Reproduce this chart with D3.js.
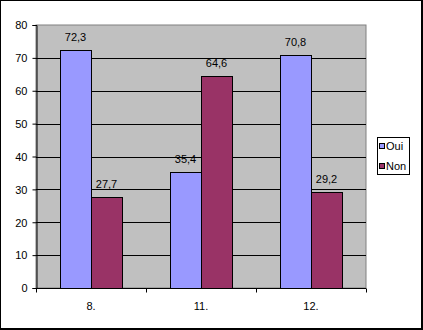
<!DOCTYPE html>
<html>
<head>
<meta charset="utf-8">
<script src="https://cdn.jsdelivr.net/npm/d3@7"></script>
<style>
  body { margin: 0; background: #fff; }
  svg text { font-family: "Liberation Sans", Arial, sans-serif; font-size: 11px; fill: #000; }
</style>
</head>
<body>
<svg id="chart" width="423" height="330"></svg>
<script>
const categories = ['8.', '11.', '12.']
const series = ['Oui', 'Non']
const oui = [72.3, 35.4, 70.8]
const non = [27.7, 64.6, 29.2]
const yTicks = [0, 10, 20, 30, 40, 50, 60, 70, 80]
const colors = ['#9999FF', '#993366']

const svg = d3.select('#chart')

// outer frame, a bit heavier on the right
svg.append('rect').attr('x', 0.5).attr('y', 0.5).attr('width', 421).attr('height', 328)
  .attr('fill', '#fff').attr('stroke', '#000').attr('stroke-width', 1)
svg.append('line').attr('x1', 422.5).attr('x2', 422.5).attr('y1', 0).attr('y2', 330).attr('stroke', '#000')
svg.append('line').attr('x1', 0).attr('x2', 423).attr('y1', 329.5).attr('y2', 329.5).attr('stroke', '#000')

const plot = { left: 36, top: 25, right: 366, bottom: 288 }

const x = d3.scaleBand().domain(categories).range([plot.left, plot.right])
const xs = d3.scaleBand().domain(series).range([0, 62])
const y = d3.scaleLinear().domain([0, 80]).range([plot.bottom, plot.top])

svg.append('rect')
  .attr('x', plot.left).attr('y', plot.top)
  .attr('width', plot.right - plot.left).attr('height', plot.bottom - plot.top)
  .attr('fill', '#C0C0C0').attr('stroke', '#808080')

// gridlines
svg.append('g').selectAll('line').data(yTicks.filter(d => d > 0 && d < 80)).join('line')
  .attr('x1', plot.left).attr('x2', plot.right)
  .attr('y1', d => Math.round(y(d)) + 0.5).attr('y2', d => Math.round(y(d)) + 0.5)
  .attr('stroke', '#000')

// bars
const rows = categories.map((c, i) => ({ cat: c, values: [oui[i], non[i]] }))
const groups = svg.append('g').selectAll('g').data(rows).join('g')
  .attr('transform', d => 'translate(' + (x(d.cat) + x.bandwidth() / 2 - 31) + ',0)')

groups.selectAll('rect').data(d => d.values.map((v, j) => ({ s: series[j], v: v, j: j }))).join('rect')
  .attr('x', d => Math.round(xs(d.s)) + 0.5)
  .attr('y', d => Math.round(y(d.v)) + 0.5)
  .attr('width', xs.bandwidth())
  .attr('height', d => Math.round(y(0)) - Math.round(y(d.v)))
  .attr('fill', d => colors[d.j])
  .attr('stroke', '#000')

groups.selectAll('text').data(d => d.values.map((v, j) => ({ s: series[j], v: v }))).join('text')
  .attr('x', d => xs(d.s) + xs.bandwidth() / 2)
  .attr('y', d => y(d.v) - 9)
  .attr('text-anchor', 'middle')
  .text(d => d3.format('.1f')(d.v).replace('.', ','))

// axes
const yAxis = svg.append('g').attr('transform', 'translate(' + (plot.left + 0.5) + ',0)')
  .call(d3.axisLeft(y).tickValues(yTicks).tickSize(4).tickPadding(5))
yAxis.select('.domain').attr('stroke', '#000')
yAxis.selectAll('.tick line').attr('stroke', '#000')
yAxis.selectAll('text').style('font-size', '11px').attr('dy', '0.35em')

const xTickAxis = svg.append('g').attr('transform', 'translate(0,' + (plot.bottom + 0.5) + ')')
xTickAxis.append('line').attr('x1', plot.left).attr('x2', plot.right).attr('stroke', '#000')
xTickAxis.selectAll('.xt').data(categories.concat([null])).join('line')
  .attr('x1', (d, i) => Math.round(plot.left + i * x.step()) + 0.5)
  .attr('x2', (d, i) => Math.round(plot.left + i * x.step()) + 0.5)
  .attr('y1', 0).attr('y2', 4).attr('stroke', '#000')
xTickAxis.selectAll('text').data(categories).join('text')
  .attr('x', d => x(d) + x.bandwidth() / 2)
  .attr('y', 21)
  .attr('text-anchor', 'middle')
  .text(d => d)

// legend
const legend = svg.append('g')
legend.append('rect').attr('x', 377.5).attr('y', 137.5).attr('width', 32).attr('height', 37)
  .attr('fill', '#fff').attr('stroke', '#000')
const li = legend.selectAll('g').data(series).join('g')
  .attr('transform', (d, i) => 'translate(0,' + (146 + i * 20) + ')')
li.append('rect').attr('x', 379.5).attr('y', -2.5).attr('width', 5).attr('height', 5)
  .attr('fill', (d, i) => colors[i]).attr('stroke', '#000')
li.append('text').attr('x', 386).attr('y', 4).text(d => d)
</script>
</body>
</html>
